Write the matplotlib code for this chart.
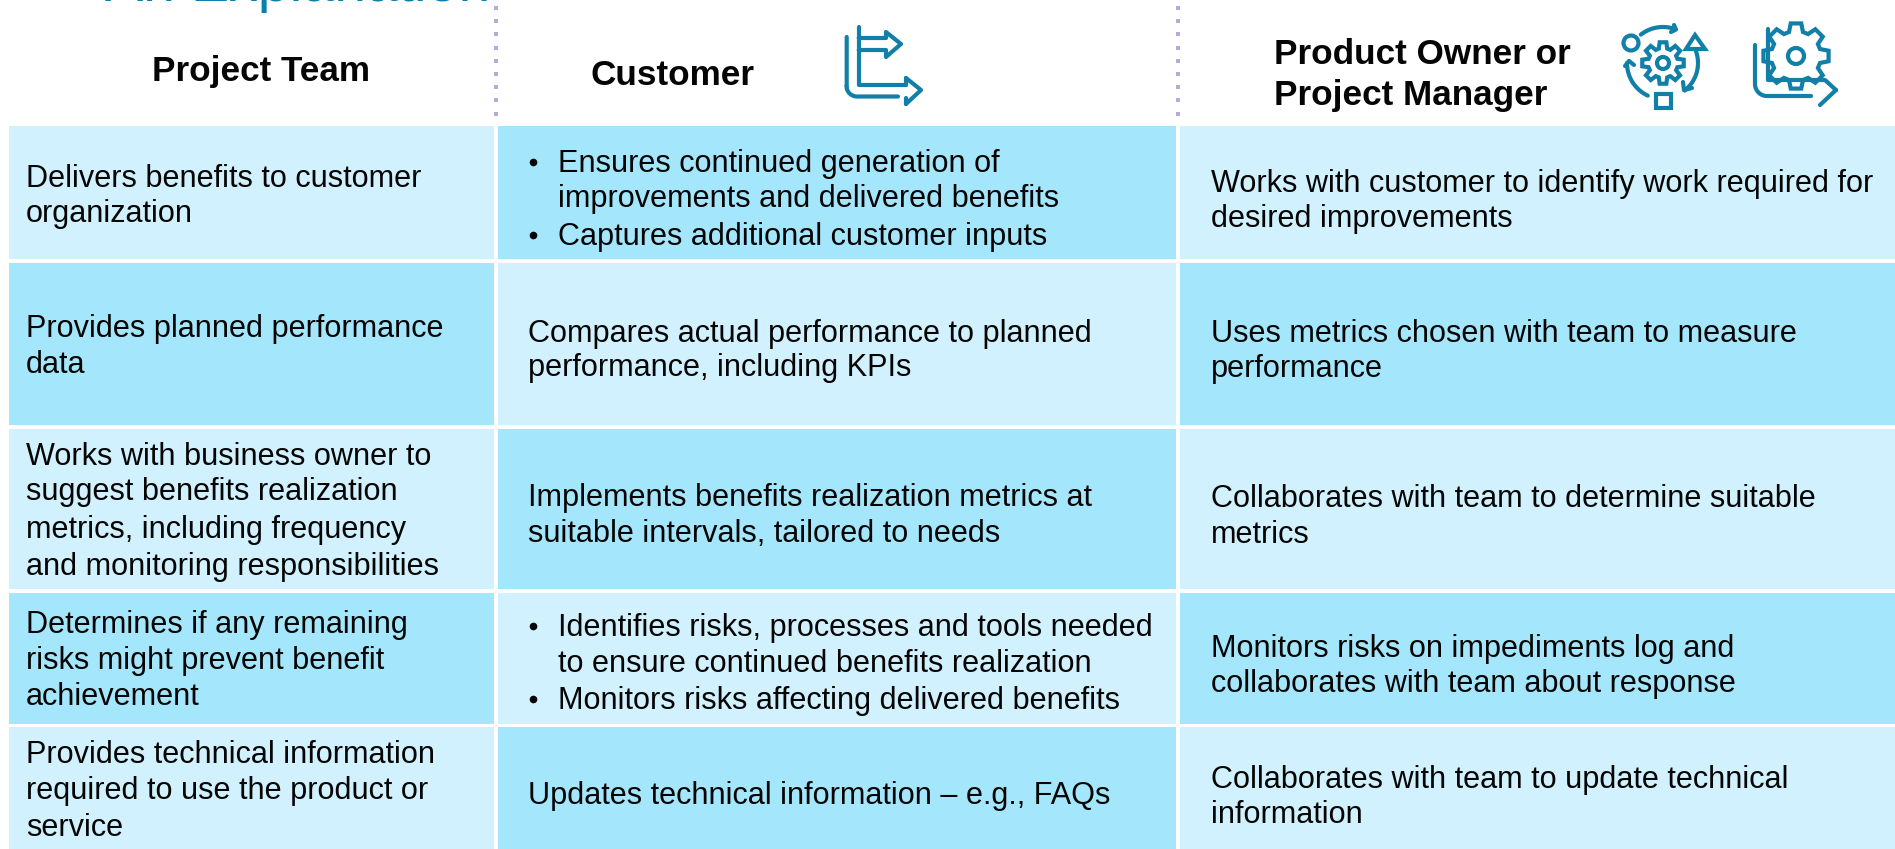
"""
Table of responsibilities for project team, customer and product owner.
"""

import numpy as np
import matplotlib
matplotlib.use("Agg")
import matplotlib.pyplot as plt
from matplotlib.patches import Rectangle, Circle, Polygon

plt.rcParams["font.family"] = ["Liberation Sans", "DejaVu Sans"]

TITLE = "An Explanation"
HEADERS = [["Project Team"], ["Customer"], ["Product Owner or", "Project Manager"]]

# Cell text, one list per column. A leading "* " marks a bullet, "  " a bullet's second line.
PROJECT_TEAM = [
    ["Delivers benefits to customer", "organization"],
    ["Provides planned performance", "data"],
    ["Works with business owner to", "suggest benefits realization",
     "metrics, including frequency", "and monitoring responsibilities"],
    ["Determines if any remaining", "risks might prevent benefit", "achievement"],
    ["Provides technical information", "required to use the product or", "service"],
]
CUSTOMER = [
    ["* Ensures continued generation of", "  improvements and delivered benefits",
     "* Captures additional customer inputs"],
    ["Compares actual performance to planned", "performance, including KPIs"],
    ["Implements benefits realization metrics at", "suitable intervals, tailored to needs"],
    ["* Identifies risks, processes and tools needed", "  to ensure continued benefits realization",
     "* Monitors risks affecting delivered benefits"],
    ["Updates technical information \u2013 e.g., FAQs"],
]
OWNER = [
    ["Works with customer to identify work required for", "desired improvements"],
    ["Uses metrics chosen with team to measure", "performance"],
    ["Collaborates with team to determine suitable", "metrics"],
    ["Monitors risks on impediments log and", "collaborates with team about response"],
    ["Collaborates with team to update technical", "information"],
]
COLUMNS = [PROJECT_TEAM, CUSTOMER, OWNER]

# Layout, in pixels of the 1895x849 picture.
COL_EDGES = [(9, 494), (498, 1176), (1180, 1895)]
ROW_EDGES = [(126, 259), (263, 425), (429, 589), (593, 723.5), (727, 849)]
TEXT_X = [26, 528, 1211]
BULLET_X = 533
BULLET_TEXT_X = 558
BASELINES = [
    [[187, 222], [337, 373], [465, 500, 538, 575], [633, 669, 705], [763, 799, 836]],
    [[172, 207, 245], [342, 376], [506, 542], [636, 672, 709], [804]],
    [[192, 227], [342, 377], [507, 543], [657, 692], [788, 823]],
]
HEADER_X = [152, 591, 1274]
HEADER_BASE = [[81], [85], [64, 105]]
DIVIDER_X = [496, 1178]

LIGHT = "#d0f1fd"
DARK = "#a4e6fb"
INK = "#050505"
ICON = "#127fa8"
TITLE_COLOR = "#0a80aa"
DOTS = "#b9a9d8"
BODY_SIZE = 22.1
HEAD_SIZE = 25.3
ICON_LW = 3.0


def stroke(ax, points, lw=ICON_LW):
    """Draw one icon stroke from a list of pixel points."""
    xs, ys = zip(*points)
    ax.plot(xs, ys, color=ICON, lw=lw, solid_capstyle="round", solid_joinstyle="round")


def arc(cx, cy, r, start, end):
    """Points along a circle, angles in degrees with y pointing down."""
    t = np.radians(np.linspace(start, end, 30))
    return list(zip(cx + r * np.cos(t), cy + r * np.sin(t)))


def gear(ax, cx, cy, r_out, r_in, r_hole, teeth=8):
    """Outline of a cog wheel with a ring in the middle."""
    pts = []
    step = 2 * np.pi / teeth
    for k in range(teeth):
        a = k * step
        for off, r in ((-0.30, r_in), (-0.17, r_out), (0.17, r_out), (0.30, r_in)):
            pts.append((cx + r * np.cos(a + off * step * 1.2), cy + r * np.sin(a + off * step * 1.2)))
    ax.add_patch(Polygon(pts, closed=True, fill=False, edgecolor=ICON, lw=ICON_LW))
    ax.add_patch(Circle((cx, cy), r_hole, fill=False, edgecolor=ICON, lw=ICON_LW))


def draw_flow_icon(ax):
    """The two arrows with the nested axes, beside Customer."""
    stroke(ax, [(846.7, 37), (846.7, 86)] + arc(857, 86, 10.5, 180, 90) + [(898, 96.5)])
    stroke(ax, [(858.7, 27), (858.7, 85), (906, 85)])
    stroke(ax, [(858.7, 38), (886, 38), (886, 32), (901, 44), (886, 57), (886, 50), (858.7, 50)])
    stroke(ax, [(906, 78), (921, 90), (906, 104)])
    stroke(ax, [(906, 78), (906, 85)])
    stroke(ax, [(906, 98), (906, 104)])


def draw_cycle_icon(ax):
    """The gear with the circle, triangle and square around it."""
    gear(ax, 1663, 63, 21, 15, 6)
    ax.add_patch(Circle((1631, 43), 7.5, fill=False, edgecolor=ICON, lw=ICON_LW))
    stroke(ax, arc(1663, 63, 36, 232, 283) + [(1675, 29)])
    stroke(ax, [(1674, 25), (1676, 29.5), (1671, 32)])
    ax.add_patch(Polygon([(1695, 35), (1705, 49), (1686, 49)], closed=True, fill=False, edgecolor=ICON, lw=ICON_LW))
    stroke(ax, arc(1663, 63, 35, -22, 52))
    stroke(ax, [(1683, 82), (1684, 90), (1692, 88)])
    stroke(ax, arc(1663, 63, 36, 115, 180))
    stroke(ax, [(1625, 66), (1629, 61), (1634, 65)])
    ax.add_patch(Rectangle((1656, 94), 15, 14, fill=False, edgecolor=ICON, lw=ICON_LW))


def draw_gear_chart_icon(ax):
    """The large gear resting on an axis with an arrow."""
    gear(ax, 1796, 56, 33, 25, 8)
    stroke(ax, [(1755, 45), (1755, 84)] + arc(1767, 84, 12, 180, 90) + [(1811, 96)])
    stroke(ax, [(1768, 29), (1768, 80), (1825, 80), (1836, 90)])
    stroke(ax, [(1820, 105), (1836, 90)])


fig = plt.figure(figsize=(18.95, 8.49), dpi=100, facecolor="white")
ax = fig.add_axes([0, 0, 1, 1])
ax.set_xlim(0, 1895)
ax.set_ylim(849, 0)
ax.axis("off")

ax.text(105, 0.5, TITLE, fontsize=41.2, color=TITLE_COLOR, va="baseline", ha="left")

for x in DIVIDER_X:
    ax.plot([x] * 9, np.arange(9) * 13.2 + 8, ls="none", marker="s", ms=2.3, mew=0, color=DOTS)

for c, (left, right) in enumerate(COL_EDGES):
    for r, (top, bottom) in enumerate(ROW_EDGES):
        color = LIGHT if (c + r) % 2 == 0 else DARK
        ax.add_patch(Rectangle((left, top), right - left, bottom - top, facecolor=color, edgecolor="none"))
        for line, base in zip(COLUMNS[c][r], BASELINES[c][r]):
            x = TEXT_X[c]
            if line.startswith("* "):
                ax.plot([BULLET_X], [base - 10], marker="o", ms=5.5, mew=0, color=INK)
                line, x = line[2:], BULLET_TEXT_X
            elif line.startswith("  "):
                line, x = line[2:], BULLET_TEXT_X
            ax.text(x, base, line, fontsize=BODY_SIZE, color=INK, va="baseline", ha="left")

for c, lines in enumerate(HEADERS):
    for line, base in zip(lines, HEADER_BASE[c]):
        ax.text(HEADER_X[c], base, line, fontsize=HEAD_SIZE, fontweight="bold", color=INK, va="baseline", ha="left")

draw_flow_icon(ax)
draw_cycle_icon(ax)
draw_gear_chart_icon(ax)

fig.savefig("out.png", dpi=100)
plt.close(fig)
